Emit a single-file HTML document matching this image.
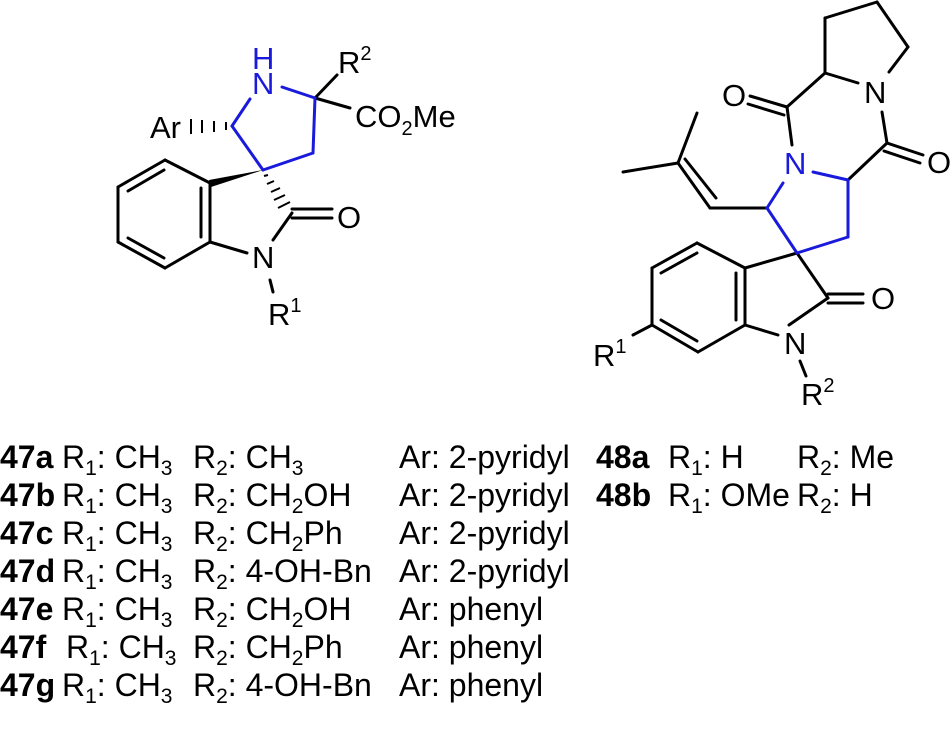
<!DOCTYPE html>
<html><head><style>body{margin:0;background:#fff}svg{display:block}</style></head><body>
<svg width="950" height="729" viewBox="0 0 950 729" xmlns="http://www.w3.org/2000/svg" font-family="Liberation Sans, sans-serif">
<g stroke="#000" stroke-width="3" fill="none" stroke-linecap="round">
<line x1="315" y1="98" x2="337" y2="75"/>
<line x1="315" y1="98" x2="350" y2="108"/>
<line x1="165" y1="160" x2="118" y2="187"/><line x1="118" y1="187" x2="118" y2="242"/>
<line x1="118" y1="242" x2="165" y2="268"/><line x1="165" y1="268" x2="210" y2="242"/>
<line x1="210" y1="242" x2="210" y2="183"/><line x1="210" y1="183" x2="165" y2="160"/>
<line x1="164" y1="170" x2="128" y2="191"/><line x1="128" y1="238" x2="164" y2="258"/><line x1="201" y1="188" x2="201" y2="237"/>
<line x1="210" y1="242" x2="247" y2="253"/>
<line x1="273" y1="240" x2="292" y2="213"/>
<line x1="292" y1="209" x2="332" y2="209"/><line x1="292" y1="218" x2="332" y2="218"/>
<line x1="270" y1="280" x2="273" y2="292"/>
<line x1="825" y1="73" x2="825" y2="18"/><line x1="825" y1="18" x2="877" y2="2"/><line x1="877" y1="2" x2="908" y2="47"/><line x1="908" y1="47" x2="889" y2="72"/>
<line x1="825" y1="73" x2="858" y2="83"/>
<line x1="825" y1="73" x2="787" y2="107"/>
<line x1="787" y1="107" x2="750" y2="96"/><line x1="784" y1="115" x2="748" y2="104"/>
<line x1="787" y1="107" x2="792" y2="145"/>
<line x1="882" y1="112" x2="887" y2="143"/>
<line x1="887" y1="143" x2="923" y2="155"/><line x1="884" y1="151" x2="920" y2="163"/>
<line x1="887" y1="143" x2="848" y2="180"/>
<line x1="767" y1="208" x2="710" y2="208"/>
<line x1="710" y1="208" x2="678" y2="163"/><line x1="716" y1="198" x2="685" y2="159"/>
<line x1="678" y1="163" x2="623" y2="172"/><line x1="678" y1="163" x2="697" y2="113"/>
<line x1="797" y1="253" x2="745" y2="268"/>
<line x1="745" y1="268" x2="697" y2="243"/><line x1="697" y1="243" x2="652" y2="268"/><line x1="652" y1="268" x2="652" y2="325"/>
<line x1="652" y1="325" x2="698" y2="352"/><line x1="698" y1="352" x2="745" y2="325"/><line x1="745" y1="325" x2="745" y2="268"/>
<line x1="697" y1="253" x2="661" y2="273"/><line x1="661" y1="320" x2="697" y2="341"/><line x1="736" y1="273" x2="736" y2="320"/>
<line x1="652" y1="325" x2="633" y2="335"/>
<line x1="745" y1="325" x2="778" y2="335"/>
<line x1="797" y1="253" x2="828" y2="298"/>
<line x1="789" y1="325" x2="828" y2="298"/>
<line x1="828" y1="294" x2="863" y2="294"/><line x1="828" y1="303" x2="863" y2="303"/>
<line x1="800" y1="361" x2="806" y2="376"/>
</g>
<g stroke="#1a1adc" stroke-width="3" fill="none" stroke-linecap="round">
<line x1="282" y1="87" x2="315" y2="98"/><line x1="315" y1="98" x2="313" y2="153"/>
<line x1="313" y1="153" x2="263" y2="170"/><line x1="263" y1="170" x2="232" y2="126"/><line x1="232" y1="126" x2="250" y2="99"/>
<line x1="813" y1="172" x2="848" y2="180"/><line x1="848" y1="180" x2="848" y2="237"/><line x1="848" y1="237" x2="797" y2="253"/>
<line x1="797" y1="253" x2="767" y2="208"/><line x1="767" y1="208" x2="783" y2="183"/>
</g>
<polygon points="263,170 209,180 211,187" fill="#000"/>
<g stroke="#000" stroke-width="2">
<line x1="226" y1="122" x2="226" y2="130"/><line x1="214" y1="121" x2="214" y2="132"/><line x1="202" y1="120" x2="202" y2="133"/><line x1="191" y1="119" x2="191" y2="134"/>
<line x1="264" y1="176" x2="268" y2="175"/><line x1="267" y1="184" x2="274" y2="181"/><line x1="271" y1="192" x2="280" y2="188"/><line x1="274" y1="200" x2="285" y2="195"/><line x1="278" y1="208" x2="290" y2="202"/>
</g>
<g font-size="31" fill="#000">
<text x="252" y="69" fill="#1a1adc">H</text>
<text x="252" y="94" fill="#1a1adc">N</text>
<text x="338" y="73">R<tspan font-size="20" dy="-13">2</tspan></text>
<text x="355" y="127">CO<tspan font-size="20" dy="8">2</tspan><tspan dy="-8">Me</tspan></text>
<text x="150" y="138">Ar</text>
<text x="337" y="228">O</text>
<text x="252" y="268">N</text>
<text x="268" y="325">R<tspan font-size="20" dy="-13">1</tspan></text>
<text x="722" y="106">O</text>
<text x="864" y="103">N</text>
<text x="784" y="174" fill="#1a1adc">N</text>
<text x="927" y="173">O</text>
<text x="871" y="309">O</text>
<text x="784" y="354">N</text>
<text x="593" y="366">R<tspan font-size="20" dy="-13">1</tspan></text>
<text x="801" y="405">R<tspan font-size="20" dy="-13">2</tspan></text>
</g>
<g font-size="32" fill="#000">
<g font-weight="bold"><text x="0" y="468">47a</text><text x="0" y="506">47b</text><text x="0" y="544">47c</text><text x="0" y="582">47d</text><text x="0" y="620">47e</text><text x="0" y="658">47f</text><text x="0" y="696">47g</text>
<text x="596" y="468">48a</text><text x="596" y="506">48b</text></g>
<text x="62" y="468">R<tspan font-size="21" dy="7">1</tspan><tspan dy="-7">: CH</tspan><tspan font-size="21" dy="7">3</tspan></text>
<text x="62" y="506">R<tspan font-size="21" dy="7">1</tspan><tspan dy="-7">: CH</tspan><tspan font-size="21" dy="7">3</tspan></text>
<text x="62" y="544">R<tspan font-size="21" dy="7">1</tspan><tspan dy="-7">: CH</tspan><tspan font-size="21" dy="7">3</tspan></text>
<text x="62" y="582">R<tspan font-size="21" dy="7">1</tspan><tspan dy="-7">: CH</tspan><tspan font-size="21" dy="7">3</tspan></text>
<text x="62" y="620">R<tspan font-size="21" dy="7">1</tspan><tspan dy="-7">: CH</tspan><tspan font-size="21" dy="7">3</tspan></text>
<text x="66" y="658">R<tspan font-size="21" dy="7">1</tspan><tspan dy="-7">: CH</tspan><tspan font-size="21" dy="7">3</tspan></text>
<text x="62" y="696">R<tspan font-size="21" dy="7">1</tspan><tspan dy="-7">: CH</tspan><tspan font-size="21" dy="7">3</tspan></text>
<text x="193" y="468">R<tspan font-size="21" dy="7">2</tspan><tspan dy="-7">: CH</tspan><tspan font-size="21" dy="7">3</tspan></text>
<text x="193" y="506">R<tspan font-size="21" dy="7">2</tspan><tspan dy="-7">: CH</tspan><tspan font-size="21" dy="7">2</tspan><tspan dy="-7">OH</tspan></text>
<text x="193" y="544">R<tspan font-size="21" dy="7">2</tspan><tspan dy="-7">: CH</tspan><tspan font-size="21" dy="7">2</tspan><tspan dy="-7">Ph</tspan></text>
<text x="193" y="582">R<tspan font-size="21" dy="7">2</tspan><tspan dy="-7">: 4-OH-Bn</tspan></text>
<text x="193" y="620">R<tspan font-size="21" dy="7">2</tspan><tspan dy="-7">: CH</tspan><tspan font-size="21" dy="7">2</tspan><tspan dy="-7">OH</tspan></text>
<text x="193" y="658">R<tspan font-size="21" dy="7">2</tspan><tspan dy="-7">: CH</tspan><tspan font-size="21" dy="7">2</tspan><tspan dy="-7">Ph</tspan></text>
<text x="193" y="696">R<tspan font-size="21" dy="7">2</tspan><tspan dy="-7">: 4-OH-Bn</tspan></text>
<text x="399" y="468">Ar: 2-pyridyl</text><text x="399" y="506">Ar: 2-pyridyl</text><text x="399" y="544">Ar: 2-pyridyl</text><text x="399" y="582">Ar: 2-pyridyl</text>
<text x="399" y="620">Ar: phenyl</text><text x="399" y="658">Ar: phenyl</text><text x="399" y="696">Ar: phenyl</text>
<text x="668" y="468">R<tspan font-size="21" dy="7">1</tspan><tspan dy="-7">: H</tspan></text>
<text x="797" y="468">R<tspan font-size="21" dy="7">2</tspan><tspan dy="-7">: Me</tspan></text>
<text x="668" y="506">R<tspan font-size="21" dy="7">1</tspan><tspan dy="-7">: OMe</tspan></text>
<text x="797" y="506">R<tspan font-size="21" dy="7">2</tspan><tspan dy="-7">: H</tspan></text>
</g>
</svg>
</body></html>
